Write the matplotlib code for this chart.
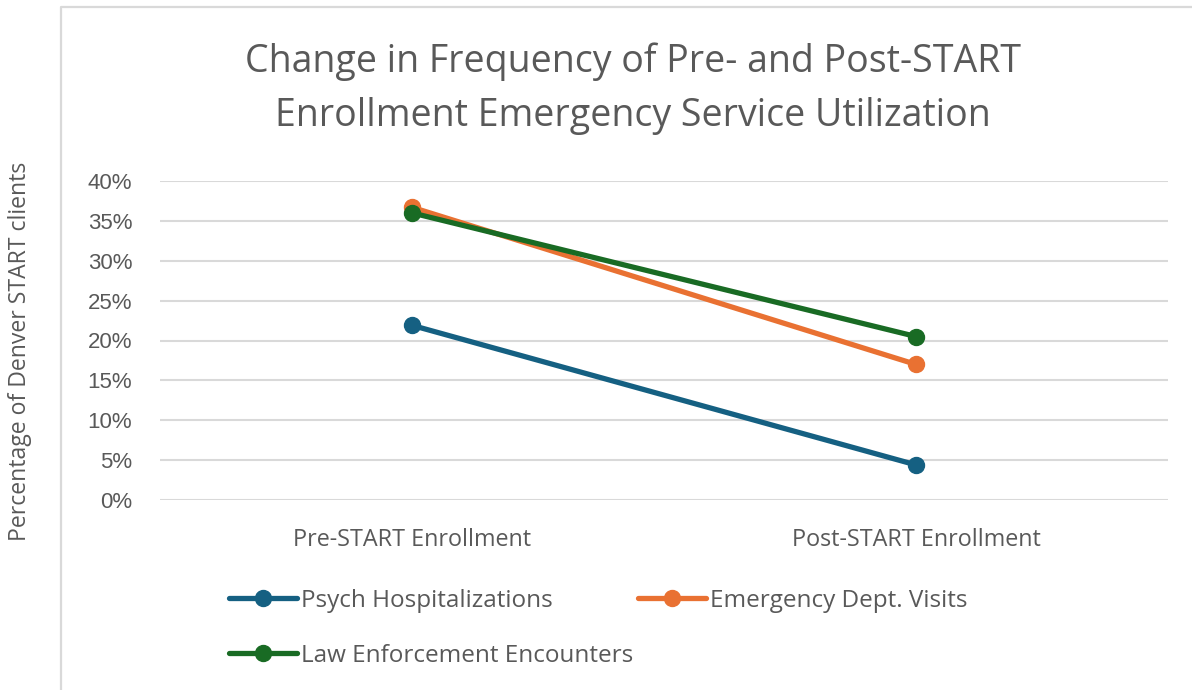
import matplotlib
matplotlib.use("Agg")
import matplotlib.pyplot as plt
from matplotlib.lines import Line2D
from matplotlib import font_manager

categories = ["Pre-START Enrollment", "Post-START Enrollment"]
psych = [21.9, 4.4]
ed_visits = [36.7, 17.0]
law = [36.0, 20.5]
series_names = ["Psych Hospitalizations", "Emergency Dept. Visits", "Law Enforcement Encounters"]
yticks = [0, 5, 10, 15, 20, 25, 30, 35, 40]
ytick_labels = [f"{v}%" for v in yticks]

colors = ["#156082", "#E97132", "#196B24"]
text_gray = "#595959"
grid_gray = "#D9D9D9"

avail = {f.name for f in font_manager.fontManager.ttflist}
narrow = "Liberation Sans Narrow" if "Liberation Sans Narrow" in avail else "Open Sans"

W, H = 1192, 690
fig = plt.figure(figsize=(W / 100, H / 100), dpi=100)
fig.patch.set_facecolor("white")

# chart border (partly cropped)
fig.add_artist(Line2D([61 / W, 61 / W, 1.0], [0.0, 1 - 7 / H, 1 - 7 / H],
                      transform=fig.transFigure, color=grid_gray, lw=1.6))

ax = fig.add_axes([160 / W, 190 / H, 1008 / W, 319 / H])
x = list(range(len(categories)))
lines = []
for vals, name, c in zip([psych, ed_visits, law], series_names, colors):
    ln, = ax.plot(x, vals, color=c, lw=3.8, marker="o", markersize=11.5,
                  solid_capstyle="round", label=name, clip_on=False, zorder=3)
    lines.append(ln)

ax.set_xlim(-0.5, 1.5)
ax.set_ylim(0, 40)
ax.set_yticks(yticks)
ax.set_yticklabels(ytick_labels, fontsize=16, color=text_gray, family="Liberation Sans")
ax.set_xticks(x)
ax.set_xticklabels(categories, fontsize=16.8, color=text_gray, family="Open Sans")
ax.tick_params(axis="both", length=0)
ax.tick_params(axis="y", pad=20)
ax.tick_params(axis="x", pad=20)
ax.grid(axis="y", color=grid_gray, lw=1.5)
ax.set_axisbelow(True)
for s in ax.spines.values():
    s.set_visible(False)

fig.text(20 / W, 1 - 351 / H, "Percentage of Denver START clients", rotation=90,
         ha="center", va="center", fontsize=16.6, color=text_gray, family=narrow)

fig.text(633 / W, 1 - 89 / H,
         "Change in Frequency of Pre- and Post-START\nEnrollment Emergency Service Utilization",
         ha="center", va="center", fontsize=27, color=text_gray, family="Open Sans",
         linespacing=1.55)

handles = [lines[0], lines[2], lines[1]]
leg = fig.legend(handles, [h.get_label() for h in handles], ncol=2,
                 loc="upper left", bbox_to_anchor=(229 / W, 1 - 589 / H),
                 frameon=False, handlelength=2.8, handletextpad=0.16,
                 columnspacing=0.2, labelspacing=1.26, borderpad=0, borderaxespad=0,
                 prop={"family": "Open Sans", "size": 17.5})
for t in leg.get_texts():
    t.set_color(text_gray)

fig.savefig("out.png", dpi=100, facecolor="white")
